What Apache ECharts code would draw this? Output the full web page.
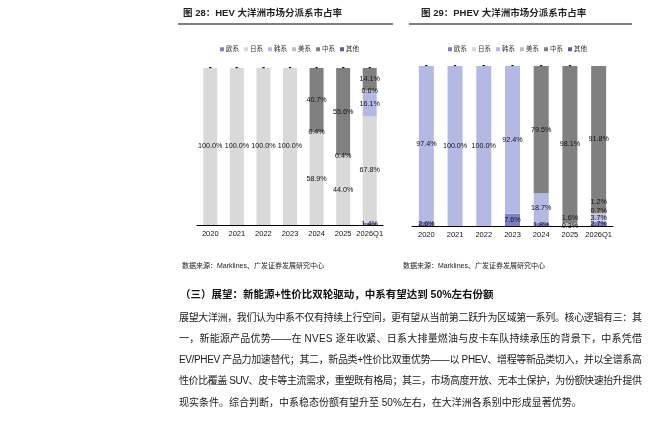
<!DOCTYPE html>
<html>
<head>
<meta charset="utf-8">
<script src="https://cdn.jsdelivr.net/npm/echarts@6/dist/echarts.min.js"></script>
<style>html,body{margin:0;background:#fff}#main{width:670px;height:425px}</style>
</head>
<body>
<div id="main"></div>
<script>
const categories = ['2020', '2021', '2022', '2023', '2024', '2025', '2026Q1'];
const seriesNames = ['欧系', '日系', '韩系', '美系', '中系', '其他'];

// HEV 大洋洲 share (%)
const hevEu    = [0, 0, 0, 0, 0, 0, 1.4];
const hevJp    = [100, 100, 100, 100, 58.9, 44.0, 67.8];
const hevKr    = [0, 0, 0, 0, 0, 0, 16.1];
const hevUs    = [0, 0, 0, 0, 0.4, 0.4, 0.6];
const hevCn    = [0, 0, 0, 0, 40.7, 55.6, 14.1];
const hevOther = [0, 0, 0, 0, 0, 0, 0];

// PHEV 大洋洲 share (%)
const phevEu    = [2.6, 0, 0, 7.6, 1.8, 0.3, 2.7];
const phevJp    = [0, 0, 0, 0, 0, 0, 0.7];
const phevKr    = [97.4, 100, 100, 92.4, 18.7, 0, 3.7];
const phevUs    = [0, 0, 0, 0, 0, 1.6, 1.2];
const phevCn    = [0, 0, 0, 0, 79.5, 98.1, 91.8];
const phevOther = [0, 0, 0, 0, 0, 0, 0];

const titles = ['图 28：HEV 大洋洲市场分派系市占率', '图 29：PHEV 大洋洲市场分派系市占率'];
const sourceText = '数据来源：Marklines、广发证券发展研究中心';
const heading = '（三）展望：新能源+性价比双轮驱动，中系有望达到 50%左右份额';
const paragraph = [
  '展望大洋洲，我们认为中系不仅有持续上行空间，更有望从当前第二跃升为区域第一系列。核心逻辑有三：其',
  '一，新能源产品优势——在 NVES 逐年收紧、日系大排量燃油与皮卡车队持续承压的背景下，中系凭借',
  'EV/PHEV 产品力加速替代；其二，新品类+性价比双重优势——以 PHEV、增程等新品类切入，并以全谱系高',
  '性价比覆盖 SUV、皮卡等主流需求，重塑既有格局；其三，市场高度开放、无本土保护，为份额快速抬升提供',
  '现实条件。综合判断，中系稳态份额有望升至 50%左右，在大洋洲各系别中形成显著优势。'
];

const FONT = "'Liberation Sans','Noto Sans CJK SC',sans-serif";
const colors = ['#7d80c8', '#d9d9d9', '#b4b9e3', '#bfbfbf', '#808080', '#5b5ea8'];

// nudges for crowded labels: chart-series-index -> dy
const nudge = {'1-3-5': -6, '1-1-6': -10, '1-3-6': -12};

function makeSeries(data, gi, bw) {
  return data.map((vals, si) => ({
    name: seriesNames[si],
    type: 'bar',
    stack: 's' + gi,
    xAxisIndex: gi,
    yAxisIndex: gi,
    barWidth: bw,
    itemStyle: {color: colors[si]},
    data: vals.map((v, i) => {
      const dy = nudge[gi + '-' + si + '-' + i];
      return dy ? {value: v, label: {offset: [0, dy]}} : v;
    }),
    label: si === 5
      ? {show: true, position: 'inside', fontSize: 9, fontWeight: 'bold', color: '#000', formatter: '-'}
      : {show: true, position: 'inside', fontSize: 7.2, color: '#111', fontFamily: FONT,
         formatter: p => p.value > 0 ? p.value.toFixed(1) + '%' : ''}
  }));
}

const ctx = document.createElement('canvas').getContext('2d');
function textEl(text, x, y, font, fill) {
  return {type: 'text', x: x, y: y, silent: true,
    style: {text: text, font: font, fill: fill, verticalAlign: 'middle'}};
}
function justified(text, x, y, width, font, fill) {
  ctx.font = font;
  const chars = Array.from(text);
  const ws = chars.map(c => ctx.measureText(c).width);
  const total = ws.reduce((a, b) => a + b, 0);
  const gap = (width - total) / (chars.length - 1);
  const out = [];
  let cx = x;
  chars.forEach((c, i) => {
    if (c !== ' ') out.push(textEl(c, cx, y, font, fill));
    cx += ws[i] + gap;
  });
  return out;
}

const bodyFont = '10px ' + FONT;
const graphics = [
  textEl(titles[0], 183, 13, 'bold 9.5px ' + FONT, '#222'),
  textEl(titles[1], 421, 13, 'bold 9.5px ' + FONT, '#222'),
  {type: 'line', shape: {x1: 178, y1: 24, x2: 393, y2: 24}, style: {stroke: '#000', lineWidth: 1}},
  {type: 'line', shape: {x1: 409, y1: 24, x2: 632, y2: 24}, style: {stroke: '#000', lineWidth: 1}},
  textEl(sourceText, 182, 266, '7px ' + FONT, '#222'),
  textEl(sourceText, 403, 266, '7px ' + FONT, '#222'),
  textEl(heading, 180, 295, 'bold 10.5px ' + FONT, '#111')
];
paragraph.forEach((line, i) => {
  const y = 318 + i * 21.2;
  if (i < paragraph.length - 1) graphics.push(...justified(line, 179, y, 463, bodyFont, '#1a1a1a'));
  else graphics.push(textEl(line, 179, y, bodyFont, '#1a1a1a'));
});

const axisLabel = {fontSize: 7.5, color: '#111', margin: 5, interval: 0, fontFamily: FONT};
const legendBase = {
  icon: 'rect', itemWidth: 4, itemHeight: 4, itemGap: 5, padding: 0,
  textStyle: {fontSize: 6.5, color: '#333', fontFamily: FONT, padding: [0, 0, 0, -3]},
  data: seriesNames
};

const chart = echarts.init(document.getElementById('main'));
chart.setOption({
  animation: false,
  backgroundColor: '#fff',
  graphic: graphics,
  legend: [
    Object.assign({left: 220, top: 46}, legendBase),
    Object.assign({left: 448, top: 46}, legendBase)
  ],
  grid: [
    {left: 197, width: 186, top: 68, height: 157},
    {left: 412, width: 201, top: 66, height: 160}
  ],
  xAxis: [0, 1].map(i => ({
    type: 'category', gridIndex: i, data: categories,
    axisLine: {lineStyle: {color: '#000', width: 1}},
    axisTick: {show: false},
    axisLabel: axisLabel
  })),
  yAxis: [0, 1].map(i => ({
    type: 'value', gridIndex: i, min: 0, max: 100, show: false
  })),
  series: [
    ...makeSeries([hevEu, hevJp, hevKr, hevUs, hevCn, hevOther], 0, 14),
    ...makeSeries([phevEu, phevJp, phevKr, phevUs, phevCn, phevOther], 1, 15)
  ]
});
</script>
</body>
</html>
